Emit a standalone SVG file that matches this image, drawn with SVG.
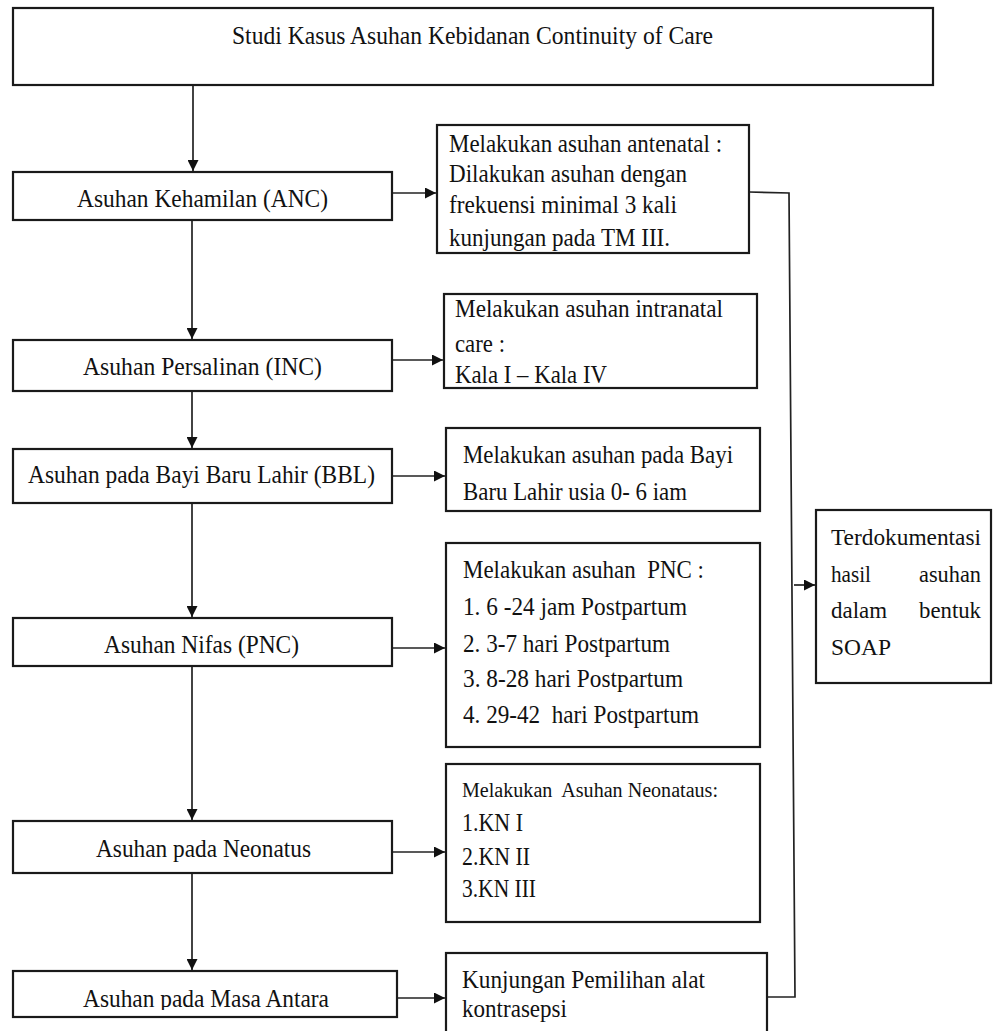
<svg xmlns="http://www.w3.org/2000/svg" width="993" height="1031" viewBox="0 0 993 1031">
<style>
.box{fill:#fff;stroke:#1a1a1a;stroke-width:2.2}
.t{font-family:"Liberation Serif","Times New Roman",serif;font-size:26px;fill:#111}
.s{font-size:20px}
.d{font-size:24px}
.c{stroke:#222;stroke-width:1.7;fill:none}
</style>
<defs>
<marker id="ah" viewBox="0 0 10 10" refX="10" refY="5" markerWidth="11" markerHeight="11" markerUnits="userSpaceOnUse" orient="auto">
<path d="M0,0 L10,5 L0,10 z" fill="#111"/>
</marker>
<clipPath id="clipMasa"><rect x="13" y="971" width="384" height="39"/></clipPath>
</defs>
<rect width="993" height="1031" fill="#fff"/>

<g id="connectors">
<line class="c" x1="193" y1="85" x2="193" y2="171" marker-end="url(#ah)"/>
<line class="c" x1="192" y1="220" x2="192" y2="339" marker-end="url(#ah)"/>
<line class="c" x1="192" y1="391" x2="192" y2="448" marker-end="url(#ah)"/>
<line class="c" x1="192" y1="503" x2="192" y2="617" marker-end="url(#ah)"/>
<line class="c" x1="192" y1="666" x2="192" y2="820" marker-end="url(#ah)"/>
<line class="c" x1="192" y1="873" x2="192" y2="970" marker-end="url(#ah)"/>
<line class="c" x1="392" y1="193" x2="436" y2="193" marker-end="url(#ah)"/>
<line class="c" x1="392" y1="360" x2="443" y2="360" marker-end="url(#ah)"/>
<line class="c" x1="392" y1="476" x2="445" y2="476" marker-end="url(#ah)"/>
<line class="c" x1="392" y1="648" x2="445" y2="648" marker-end="url(#ah)"/>
<line class="c" x1="392" y1="852" x2="445" y2="852" marker-end="url(#ah)"/>
<line class="c" x1="397" y1="998" x2="445" y2="998" marker-end="url(#ah)"/>
<polyline class="c" points="749,192 789,193 795,997 767,997"/>
<line class="c" x1="794" y1="585" x2="815" y2="585" marker-end="url(#ah)"/>
</g>

<g id="title">
<rect class="box" x="13" y="8" width="920" height="77"/>
<text class="t" x="232" y="44" textLength="481" lengthAdjust="spacingAndGlyphs">Studi Kasus Asuhan Kebidanan Continuity of Care</text>
</g>

<g id="anc">
<rect class="box" x="13" y="172" width="379" height="48"/>
<text class="t" x="77" y="207" textLength="251" lengthAdjust="spacingAndGlyphs">Asuhan Kehamilan (ANC)</text>
</g>
<g id="anc-detail">
<rect class="box" x="437" y="125" width="312" height="128"/>
<text class="t" x="449" y="152" textLength="273" lengthAdjust="spacingAndGlyphs">Melakukan asuhan antenatal :</text>
<text class="t" x="449" y="182" textLength="238" lengthAdjust="spacingAndGlyphs">Dilakukan asuhan dengan</text>
<text class="t" x="449" y="213" textLength="228" lengthAdjust="spacingAndGlyphs">frekuensi minimal 3 kali</text>
<text class="t" x="449" y="246" textLength="221" lengthAdjust="spacingAndGlyphs">kunjungan pada TM III.</text>
</g>

<g id="inc">
<rect class="box" x="13" y="340" width="379" height="51"/>
<text class="t" x="83" y="375" textLength="239" lengthAdjust="spacingAndGlyphs">Asuhan Persalinan (INC)</text>
</g>
<g id="inc-detail">
<rect class="box" x="444" y="294" width="313" height="94"/>
<text class="t" x="455" y="317" textLength="268" lengthAdjust="spacingAndGlyphs">Melakukan asuhan intranatal</text>
<text class="t" x="455" y="352" textLength="50" lengthAdjust="spacingAndGlyphs">care :</text>
<text class="t" x="455" y="383" textLength="152" lengthAdjust="spacingAndGlyphs">Kala I – Kala IV</text>
</g>

<g id="bbl">
<rect class="box" x="13" y="449" width="379" height="54"/>
<text class="t" x="28" y="483" textLength="347" lengthAdjust="spacingAndGlyphs">Asuhan pada Bayi Baru Lahir (BBL)</text>
</g>
<g id="bbl-detail">
<rect class="box" x="446" y="428" width="314" height="83"/>
<text class="t" x="463" y="463" textLength="270" lengthAdjust="spacingAndGlyphs">Melakukan asuhan pada Bayi</text>
<text class="t" x="463" y="500" textLength="224" lengthAdjust="spacingAndGlyphs">Baru Lahir usia 0- 6 iam</text>
</g>

<g id="pnc">
<rect class="box" x="13" y="618" width="379" height="48"/>
<text class="t" x="104" y="653" textLength="195" lengthAdjust="spacingAndGlyphs">Asuhan Nifas (PNC)</text>
</g>
<g id="pnc-detail">
<rect class="box" x="446" y="543" width="314" height="204"/>
<text class="t" x="463" y="578" textLength="241" lengthAdjust="spacingAndGlyphs" xml:space="preserve">Melakukan asuhan  PNC :</text>
<text class="t" x="463" y="615" textLength="224" lengthAdjust="spacingAndGlyphs">1. 6 -24 jam Postpartum</text>
<text class="t" x="463" y="652" textLength="207" lengthAdjust="spacingAndGlyphs">2. 3-7 hari Postpartum</text>
<text class="t" x="463" y="687" textLength="220" lengthAdjust="spacingAndGlyphs">3. 8-28 hari Postpartum</text>
<text class="t" x="463" y="723" textLength="236" lengthAdjust="spacingAndGlyphs" xml:space="preserve">4. 29-42  hari Postpartum</text>
</g>

<g id="neonatus">
<rect class="box" x="13" y="821" width="379" height="52"/>
<text class="t" x="96" y="857" textLength="215" lengthAdjust="spacingAndGlyphs">Asuhan pada Neonatus</text>
</g>
<g id="neonatus-detail">
<rect class="box" x="446" y="764" width="314" height="158"/>
<text class="t s" x="462" y="797" textLength="256" lengthAdjust="spacingAndGlyphs" xml:space="preserve">Melakukan  Asuhan Neonataus:</text>
<text class="t" x="462" y="831" textLength="61" lengthAdjust="spacingAndGlyphs">1.KN I</text>
<text class="t" x="462" y="865" textLength="68" lengthAdjust="spacingAndGlyphs">2.KN II</text>
<text class="t" x="462" y="897" textLength="74" lengthAdjust="spacingAndGlyphs">3.KN III</text>
</g>

<g id="masa-antara">
<rect class="box" x="13" y="971" width="384" height="46"/>
<text class="t" x="83" y="1007" textLength="246" lengthAdjust="spacingAndGlyphs" clip-path="url(#clipMasa)">Asuhan pada Masa Antara</text>
</g>
<g id="masa-antara-detail">
<rect class="box" x="446" y="953" width="321" height="100"/>
<text class="t" x="462" y="988" textLength="243" lengthAdjust="spacingAndGlyphs">Kunjungan Pemilihan alat</text>
<text class="t" x="462" y="1017" textLength="105" lengthAdjust="spacingAndGlyphs">kontrasepsi</text>
</g>

<g id="dokumentasi">
<rect class="box" x="816" y="510" width="175" height="173"/>
<text class="t d" x="831" y="545" textLength="150" lengthAdjust="spacingAndGlyphs">Terdokumentasi</text>
<text class="t d" x="831" y="582" textLength="40" lengthAdjust="spacingAndGlyphs">hasil</text>
<text class="t d" x="919" y="582" textLength="62" lengthAdjust="spacingAndGlyphs">asuhan</text>
<text class="t d" x="831" y="618" textLength="56" lengthAdjust="spacingAndGlyphs">dalam</text>
<text class="t d" x="919" y="618" textLength="62" lengthAdjust="spacingAndGlyphs">bentuk</text>
<text class="t d" x="831" y="655" textLength="60" lengthAdjust="spacingAndGlyphs">SOAP</text>
</g>
</svg>
